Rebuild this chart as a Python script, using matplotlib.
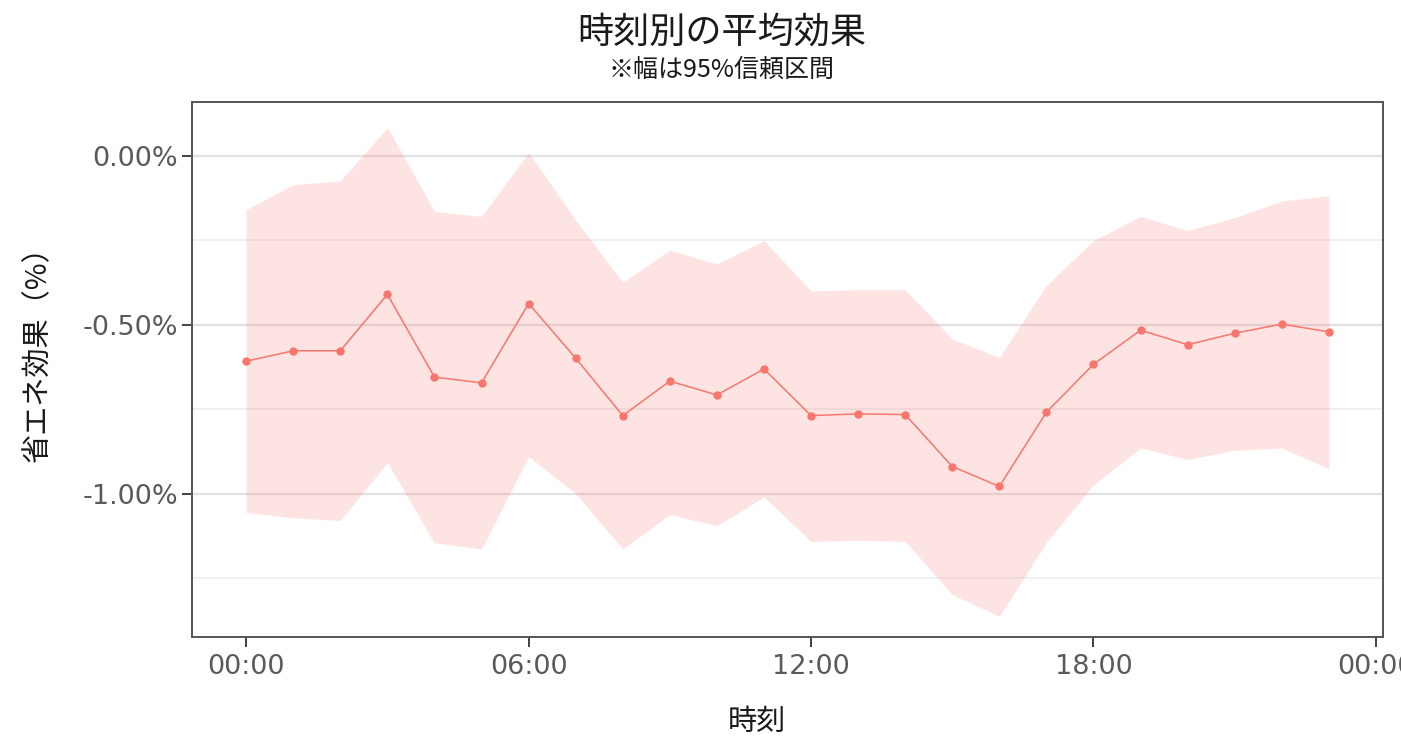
import matplotlib
matplotlib.use("Agg")
import matplotlib.pyplot as plt
from matplotlib.ticker import FixedLocator, FuncFormatter

plt.rcParams['font.family'] = ['DejaVu Sans', 'Noto Sans CJK JP']
CJK = ['Noto Sans CJK JP', 'DejaVu Sans']

# Hourly average effect (%) with 95% confidence interval
hours = list(range(24))
effect = [-0.608, -0.577, -0.577, -0.410, -0.655, -0.672, -0.437, -0.599,
          -0.769, -0.667, -0.708, -0.631, -0.769, -0.764, -0.766, -0.920,
          -0.979, -0.759, -0.617, -0.516, -0.559, -0.525, -0.498, -0.521]
upper = [-0.159, -0.085, -0.074, 0.084, -0.164, -0.179, 0.010, -0.190,
         -0.374, -0.279, -0.320, -0.251, -0.400, -0.396, -0.396, -0.542,
         -0.597, -0.383, -0.251, -0.179, -0.221, -0.183, -0.133, -0.118]
lower = [-1.056, -1.072, -1.080, -0.908, -1.146, -1.164, -0.890, -1.000,
         -1.164, -1.062, -1.095, -1.010, -1.142, -1.138, -1.142, -1.299,
         -1.364, -1.144, -0.974, -0.865, -0.899, -0.872, -0.865, -0.926]

x_ticks = [0, 6, 12, 18, 24]
x_labels = ["00:00", "06:00", "12:00", "18:00", "00:00"]
y_major = [-1.0, -0.5, 0.0]
y_minor = [-1.25, -0.75, -0.25]

title = "時刻別の平均効果"
subtitle = "※幅は95%信頼区間"
xlabel = "時刻"
ylabel = "省エネ効果（%）"

line_color = "#F8766D"

W, H = 1401, 738
fig = plt.figure(figsize=(W / 100, H / 100), dpi=100)
ax = fig.add_axes([192 / W, 1 - 637 / H, (1383 - 192) / W, (637 - 102) / H])

# horizontal grid
for v in y_minor:
    ax.axhline(v, color="#EFEFEF", lw=1.3, zorder=0)
for v in y_major:
    ax.axhline(v, color="#E2E2E2", lw=1.6, zorder=0)

ax.fill_between(hours, lower, upper, color=line_color, alpha=0.2,
                lw=0, zorder=1)
ax.plot(hours, effect, color=line_color, lw=1.1, marker="o", ms=6,
        mew=0, zorder=3)

ax.set_xlim(-1.15, 24.15)
ax.set_ylim(-1.425, 0.160)

ax.xaxis.set_major_locator(FixedLocator(x_ticks))
ax.set_xticklabels(x_labels)
ax.yaxis.set_major_locator(FixedLocator(y_major))
ax.yaxis.set_major_formatter(FuncFormatter(lambda v, p: f"{v:.2f}%"))

ax.tick_params(axis="both", length=7, width=1.3, color="#333333",
               labelcolor="#5A5A5A", labelsize=19.5)
ax.tick_params(axis="x", pad=5)
ax.tick_params(axis="y", pad=3)

for s in ax.spines.values():
    s.set_color("#555555")
    s.set_linewidth(1.4)

fig.text(722 / W, 1 - 33 / H, title, ha="center", va="center",
         fontsize=26, color="#1A1A1A", family=CJK)
fig.text(722 / W, 1 - 70 / H, subtitle, ha="center", va="center",
         fontsize=18, color="#1A1A1A", family=CJK)
fig.text(757 / W, 1 - 722 / H, xlabel, ha="center", va="center",
         fontsize=21, color="#1A1A1A", family=CJK)
fig.text(38 / W, 1 - 347 / H, ylabel, ha="center", va="center",
         rotation=90, fontsize=21, color="#1A1A1A", family=CJK)

fig.savefig("out.png", dpi=100)
